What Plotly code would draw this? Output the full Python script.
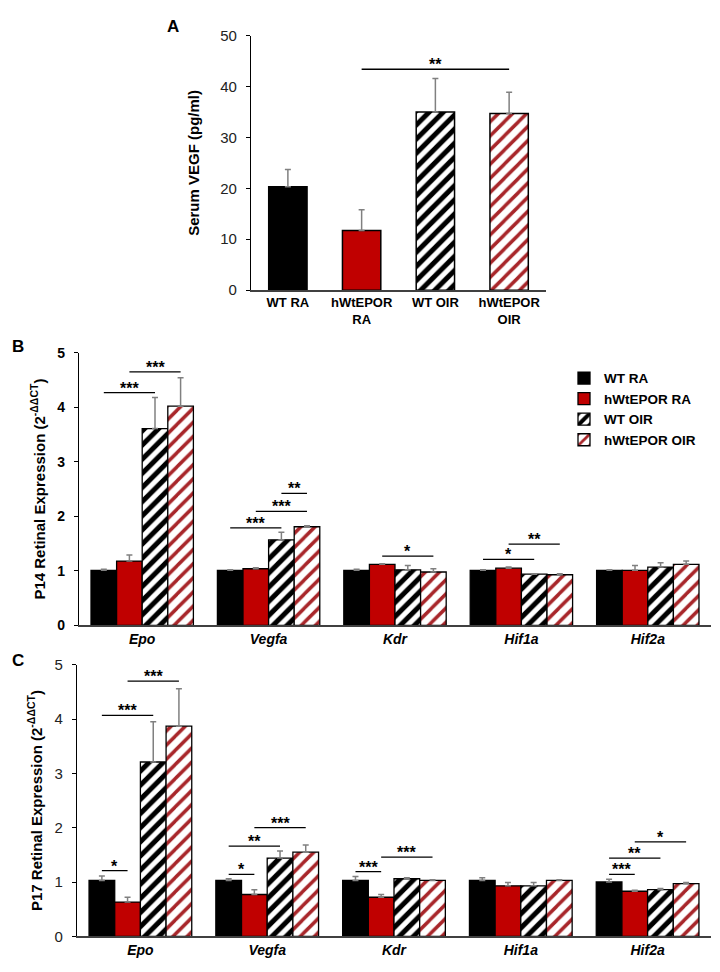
import plotly.graph_objects as go

# ---------------- data ----------------
groups = ["WT RA", "hWtEPOR RA", "WT OIR", "hWtEPOR OIR"]
a_labels = ["<b>WT RA</b>", "<b>hWtEPOR<br>RA</b>", "<b>WT OIR</b>", "<b>hWtEPOR<br>OIR</b>"]
a_values = [20.3, 11.7, 35.0, 34.7]
a_errtop = [23.7, 15.8, 41.6, 38.9]
a_sig = [(1, 3, 43.4, "**")]

genes = ["Epo", "Vegfa", "Kdr", "Hif1a", "Hif2a"]

b_values = {
    "WT RA":       [1.01, 1.01, 1.01, 1.01, 1.01],
    "hWtEPOR RA":  [1.18, 1.04, 1.12, 1.05, 1.01],
    "WT OIR":      [3.61, 1.57, 1.02, 0.94, 1.07],
    "hWtEPOR OIR": [4.02, 1.81, 0.98, 0.93, 1.12],
}
b_errtop = {
    "WT RA":       [1.03, 1.02, 1.03, 1.02, 1.02],
    "hWtEPOR RA":  [1.29, 1.06, 1.13, 1.07, 1.10],
    "WT OIR":      [4.18, 1.71, 1.10, 0.95, 1.15],
    "hWtEPOR OIR": [4.54, 1.83, 1.04, 0.95, 1.18],
}
# (gene index, group from, group to, y, label)
b_sig = [
    (0, 0, 2, 4.27, "***"), (0, 1, 3, 4.65, "***"),
    (1, 0, 2, 1.79, "***"), (1, 1, 3, 2.09, "***"), (1, 2, 3, 2.42, "**"),
    (2, 1, 3, 1.27, "*"),
    (3, 0, 2, 1.21, "*"), (3, 1, 3, 1.49, "**"),
]

c_values = {
    "WT RA":       [1.03, 1.03, 1.03, 1.03, 1.00],
    "hWtEPOR RA":  [0.63, 0.77, 0.72, 0.93, 0.83],
    "WT OIR":      [3.21, 1.44, 1.06, 0.93, 0.86],
    "hWtEPOR OIR": [3.87, 1.55, 1.03, 1.03, 0.97],
}
c_errtop = {
    "WT RA":       [1.11, 1.06, 1.10, 1.08, 1.05],
    "hWtEPOR RA":  [0.72, 0.86, 0.77, 0.99, 0.85],
    "WT OIR":      [3.95, 1.57, 1.08, 0.99, 0.88],
    "hWtEPOR OIR": [4.56, 1.68, 1.04, 1.04, 0.99],
}
c_sig = [
    (0, 0, 1, 1.21, "*"), (0, 0, 2, 4.07, "***"), (0, 1, 3, 4.70, "***"),
    (1, 0, 1, 1.14, "*"), (1, 0, 2, 1.66, "**"), (1, 1, 3, 2.00, "***"),
    (2, 0, 1, 1.19, "***"), (2, 1, 3, 1.46, "***"),
    (4, 0, 1, 1.14, "***"), (4, 0, 2, 1.44, "**"), (4, 1, 3, 1.74, "*"),
]

# ---------------- styles ----------------
FONT = "Arial, Liberation Sans, sans-serif"
RED = "#C00000"
HRED = "#A8262A"
styles = {
    "WT RA":       dict(color="black", pattern=dict(shape="")),
    "hWtEPOR RA":  dict(color=RED, pattern=dict(shape="")),
    "WT OIR":      dict(color="white", pattern=dict(shape="/", fgcolor="black", bgcolor="white", size=10, solidity=0.5, fillmode="replace")),
    "hWtEPOR OIR": dict(color="white", pattern=dict(shape="/", fgcolor=HRED, bgcolor="white", size=10, solidity=0.35, fillmode="replace")),
}
ERR = dict(type="data", symmetric=False, color="#808080", thickness=1.5, width=3)

W, H = 720, 972
def dx(p0, p1):
    return [p0 / W, p1 / W]
def dy(p0, p1):
    return [1 - p1 / H, 1 - p0 / H]

fig = go.Figure()

# ---------------- panel A ----------------
for i, g in enumerate(groups):
    st = styles[g]
    fig.add_trace(go.Bar(
        x=[a_labels[i]], y=[a_values[i]], xaxis="x", yaxis="y", width=0.52,
        offsetgroup="A", name=g,
        marker=dict(color=st["color"], line=dict(color="black", width=1.5), pattern=st["pattern"]),
        error_y=dict(ERR, array=[a_errtop[i] - a_values[i]], arrayminus=[0]),
        showlegend=False,
    ))

# ---------------- panels B and C ----------------
BARGAP = 0.19
ngr = len(groups)
bw = (1 - BARGAP) / ngr
def offset(k):
    return -(1 - BARGAP) / 2 + bw * (k + 0.5)

for vals, errs, xa, ya, leg in [(b_values, b_errtop, "x2", "y2", True), (c_values, c_errtop, "x3", "y3", False)]:
    for g in groups:
        st = styles[g]
        fig.add_trace(go.Bar(
            x=genes, y=vals[g], name=g, xaxis=xa, yaxis=ya, offsetgroup=g + xa,
            marker=dict(color=st["color"], line=dict(color="black", width=1.3), pattern=st["pattern"]),
            error_y=dict(ERR, array=[t - v for t, v in zip(errs[g], vals[g])], arrayminus=[0] * len(genes)),
            showlegend=leg, legendgroup=g,
        ))

shapes, annots = [], []
def add_sig(xref, yref, x0, x1, y, label):
    shapes.append(dict(type="line", xref=xref, yref=yref, x0=x0, x1=x1, y0=y, y1=y,
                       line=dict(color="black", width=1.3)))
    annots.append(dict(xref=xref, yref=yref, x=(x0 + x1) / 2, y=y, text="<b>" + label + "</b>",
                       showarrow=False, yanchor="bottom", yshift=-6,
                       font=dict(family=FONT, size=16, color="black")))

for i0, i1, y, lab in a_sig:
    add_sig("x", "y", i0, i1, y, lab)
for sig, xr, yr in [(b_sig, "x2", "y2"), (c_sig, "x3", "y3")]:
    for gi, k0, k1, y, lab in sig:
        add_sig(xr, yr, gi + offset(k0), gi + offset(k1), y, lab)

# panel letters
for txt, px, py in [("A", 165, 10), ("B", 10, 335), ("C", 10, 655)]:
    annots.append(dict(xref="paper", yref="paper", x=px / W, y=1 - py / H, text="<b>" + txt + "</b>",
                       showarrow=False, xanchor="center", yanchor="middle",
                       font=dict(family=FONT, size=17, color="black")))

xaxis_common = dict(type="category", showline=True, linecolor="#404040", linewidth=1.5,
                    ticks="", showgrid=False, zeroline=False)
yaxis_common = dict(showline=True, linecolor="black", linewidth=1.3, ticks="outside", ticklen=4,
                    tickcolor="black", tickwidth=1.3, showgrid=False, zeroline=False,
                    ticklabelstandoff=6)

fig.update_layout(
    width=W, height=H, margin=dict(l=0, r=0, t=0, b=0),
    paper_bgcolor="white", plot_bgcolor="white",
    font=dict(family=FONT, color="black"),
    barmode="group", bargap=BARGAP, bargroupgap=0,
    xaxis=dict(xaxis_common, domain=dx(243, 538), anchor="y", range=[-0.5, 3.5],
               tickfont=dict(family=FONT, size=13, color="black")),
    yaxis=dict(yaxis_common, domain=dy(19, 278), anchor="x", range=[0, 50], dtick=10,
               tickfont=dict(family=FONT, size=15, color="#222"),
               title=dict(text="<b>Serum VEGF (pg/ml)</b>", font=dict(family=FONT, size=15), standoff=16)),
    xaxis2=dict(xaxis_common, domain=dx(71, 703), anchor="y2", range=[-0.5, 4.5],
                tickvals=genes, ticktext=["<b><i>" + g + "</i></b>" for g in genes],
                tickfont=dict(family=FONT, size=14, color="black")),
    yaxis2=dict(yaxis_common, domain=dy(341.7, 619.3), anchor="x2", range=[0, 5], dtick=1,
                tickfont=dict(family=FONT, size=14, color="black", weight="bold"),
                title=dict(text="<b>P14 Retinal Expression (2<sup>-ΔΔCT</sup>)</b>",
                           font=dict(family=FONT, size=15), standoff=8)),
    xaxis3=dict(xaxis_common, domain=dx(69, 703), anchor="y3", range=[-0.5, 4.5],
                tickvals=genes, ticktext=["<b><i>" + g + "</i></b>" for g in genes],
                tickfont=dict(family=FONT, size=14, color="black")),
    yaxis3=dict(yaxis_common, domain=dy(659.3, 935.7), anchor="x3", range=[0, 5], dtick=1,
                tickfont=dict(family=FONT, size=15, color="#222"),
                title=dict(text="<b>P17 Retinal Expression (2<sup>-ΔΔCT</sup>)</b>",
                           font=dict(family=FONT, size=15), standoff=8)),
    legend=dict(x=556 / W, y=1 - 352 / H, xanchor="left", yanchor="top",
                font=dict(family=FONT, size=13.5, color="black", weight="bold"),
                bgcolor="rgba(0,0,0,0)", itemwidth=30, tracegroupgap=0),
    shapes=shapes, annotations=annots,
)

fig.write_html("out.html")
